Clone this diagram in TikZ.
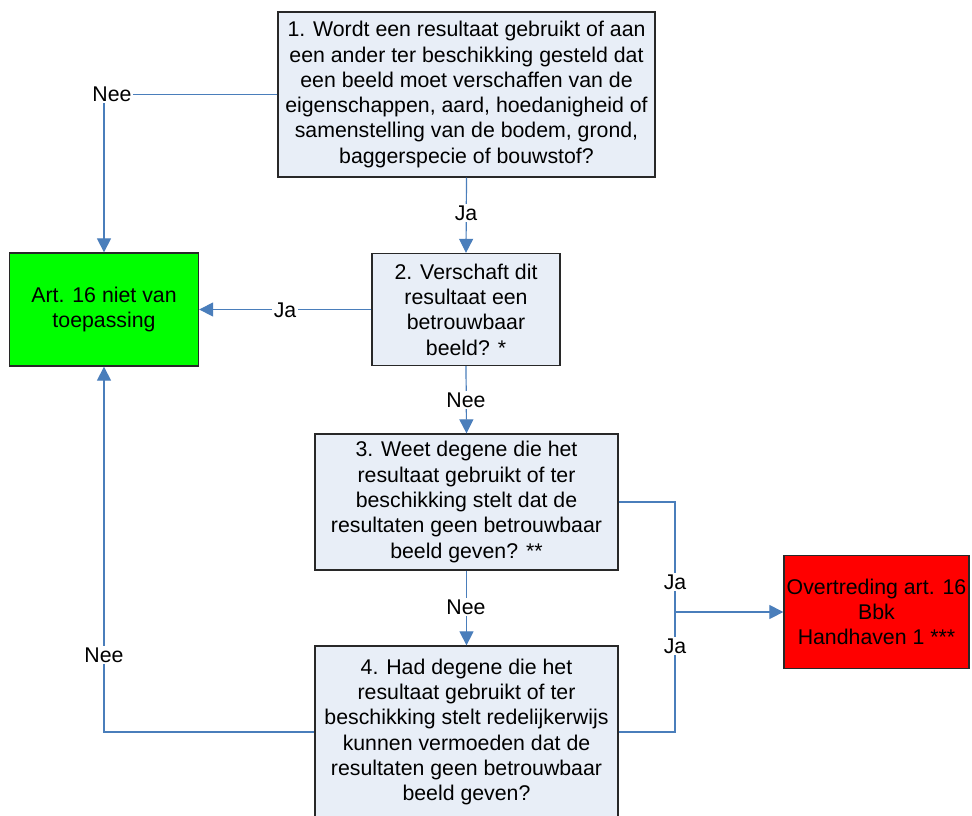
\documentclass[tikz,border=0pt]{standalone}
\usepackage{fontspec}
\setmainfont{Liberation Sans}
\usetikzlibrary{arrows.meta}
\definecolor{boxfill}{RGB}{232,238,247}
\definecolor{conncol}{RGB}{74,126,187}
\definecolor{bordercol}{RGB}{40,40,40}
\tikzset{
  qbox/.style={draw=bordercol, line width=1.3pt, fill=boxfill, align=center, inner sep=0pt},
  endbox/.style={draw=bordercol, line width=1.3pt, align=center, inner sep=0pt},
  conn/.style={draw=conncol, line width=1.2pt},
  arr/.style={conn, -{Triangle[length=14pt,width=14pt]}},
  lbl/.style={fill=white, inner sep=1.5pt}
}
\begin{document}
\begin{tikzpicture}[x=1pt,y=-1pt,font=\fontsize{21.3}{25.3}\selectfont]
\useasboundingbox (0,0) rectangle (972,815);
\clip (0,0) rectangle (972,815);
\fill[white] (0,0) rectangle (972,815);

\node[qbox, minimum width=377pt, minimum height=165pt] (q1) at (466.5,94.5)
  {1. Wordt een resultaat gebruikt of aan\\een ander ter beschikking gesteld dat\\een beeld moet verschaffen van de\\eigenschappen, aard, hoedanigheid of\\samenstelling van de bodem, grond,\\baggerspecie of bouwstof?};
\node[qbox, minimum width=188pt, minimum height=112pt] (q2) at (466,309.5)
  {2. Verschaft dit\\resultaat een\\betrouwbaar\\beeld? *};
\node[qbox, minimum width=303pt, minimum height=136pt] (q3) at (466.5,502)
  {3. Weet degene die het\\resultaat gebruikt of ter\\beschikking stelt dat de\\resultaten geen betrouwbaar\\beeld geven? **};
\node[qbox, minimum width=303pt, minimum height=172pt] (q4) at (466.5,732)
  {4. Had degene die het\\resultaat gebruikt of ter\\beschikking stelt redelijkerwijs\\kunnen vermoeden dat de\\resultaten geen betrouwbaar\\beeld geven?};
\node[endbox, fill={rgb,255:red,0;green,255;blue,0}, minimum width=189pt, minimum height=113pt] (green) at (104,309.5)
  {Art. 16 niet van\\toepassing};
\node[endbox, fill={rgb,255:red,255;green,0;blue,0}, minimum width=185pt, minimum height=113pt] (red) at (876.5,612)
  {Overtreding art. 16\\Bbk\\Handhaven 1 ***};

\coordinate (J) at (675,612);

\draw[arr] (q1.west) -| (green.north);
\draw[arr] (q1.south) -- (q2.north);
\draw[arr] (q2.west) -- (green.east);
\draw[arr] (q2.south) -- (q3.north);
\draw[arr] (q3.south) -- (q4.north);
\draw[conn] (q3.east) -| (J);
\draw[conn] (q4.east) -| (J);
\draw[arr] (J) -- (red.west);
\draw[arr] (q4.west) -| (green.south);

\node[lbl] (l1) at (112,94) {Nee};
\node[lbl] (l2) at (466,213) {Ja};
\node[lbl] (l3) at (285,310) {Ja};
\node[lbl] (l4) at (466,400) {Nee};
\node[lbl] (l5) at (466,607) {Nee};
\node[lbl] (l6) at (675,582) {Ja};
\node[lbl] (l7) at (675,646) {Ja};
\node[lbl] (l8) at (104,655) {Nee};
\end{tikzpicture}
\end{document}
